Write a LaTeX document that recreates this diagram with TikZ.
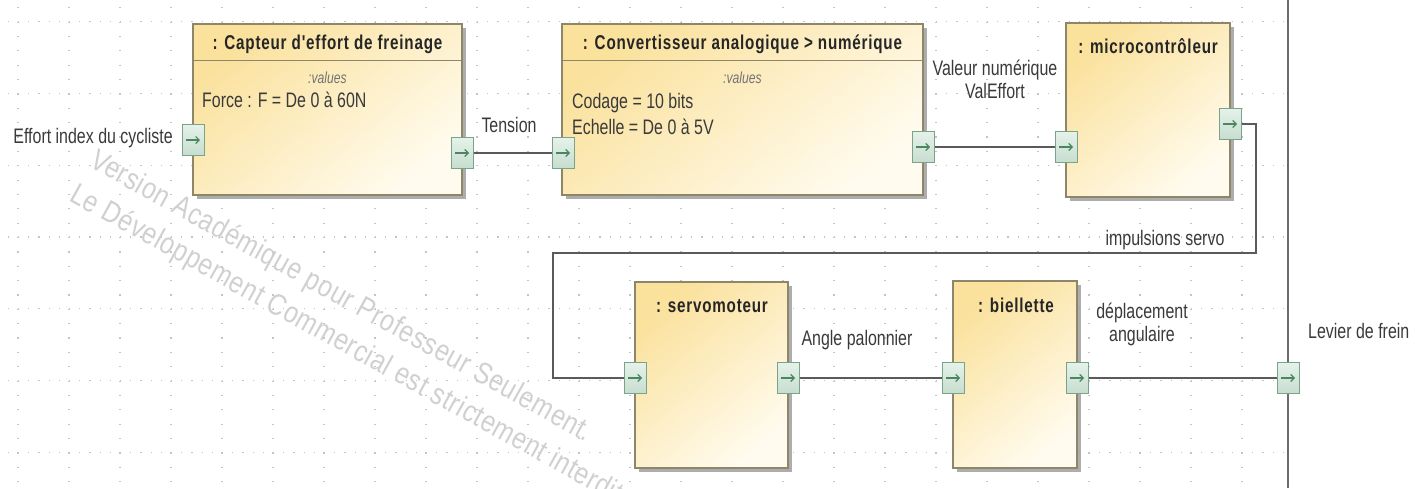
\documentclass[tikz,border=0pt]{standalone}
\usepackage{fontspec}
\setmainfont{Liberation Sans}[FakeStretch=0.76]
\newfontfamily\titlefont{Liberation Sans}[FakeStretch=0.76,LetterSpace=4]
\newfontfamily\wmfont{Liberation Sans}[FakeStretch=0.83,LetterSpace=2]
\usetikzlibrary{shadows,arrows.meta}
\definecolor{blockA}{HTML}{FAE19C}
\definecolor{blockB}{HTML}{FFFBEE}
\definecolor{blockline}{HTML}{8E8668}
\definecolor{portA}{HTML}{E6F2EA}
\definecolor{portB}{HTML}{C6DDCF}
\definecolor{portline}{HTML}{79A489}
\definecolor{portarrowc}{HTML}{4A8660}
\definecolor{connc}{HTML}{5A5A5A}
\definecolor{gridc}{HTML}{C4C4C4}
\definecolor{textc}{HTML}{3A3A3A}
\definecolor{wmc}{HTML}{D0D0D0}
\begin{document}
\begin{tikzpicture}[x=1pt,y=-1pt,
  block/.style={draw=blockline, line width=1.1pt, rectangle, inner sep=0pt,
    top color=blockA, bottom color=blockB, shading angle=40,
    drop shadow={shadow xshift=3.5pt, shadow yshift=-3.5pt, fill=black!40, opacity=0.8}},
  compline/.style={draw=blockline, line width=1pt},
  port/.style={draw=portline, line width=1pt, rectangle, inner sep=0pt,
    minimum width=22pt, minimum height=31pt, top color=portA, bottom color=portB},
  portarrow/.style={draw=portarrowc, line width=1.1pt, -{Straight Barb[length=3.5pt,width=7pt]}},
  conn/.style={draw=connc, line width=1.3pt},
  boundary/.style={draw=connc!90, line width=1.5pt},
  title/.style={font=\titlefont\bfseries\fontsize{20}{22}\selectfont, text=black!85, inner sep=0pt},
  lbl/.style={font=\fontsize{21}{23}\selectfont, text=textc, inner sep=0pt, align=center},
  vals/.style={font=\itshape\fontsize{16}{18}\selectfont, text=black!55, inner sep=0pt},
  gdot/.style={draw=gridc, line width=1.2pt},
  wm/.style={font=\wmfont\fontsize{30}{32}\selectfont, text=wmc, inner sep=0pt}
]
\useasboundingbox (0,0) rectangle (1424,488);
% grid
\foreach \k in {0,...,24}{
  \draw[gdot, dash pattern=on 1.2pt off 13.16pt] (18+51*\k,7.2) -- (18+51*\k,488);
}
\foreach \r in {0,...,6}{
  \draw[gdot, dash pattern=on 1.2pt off 9pt] (7.8,21.5+71.8*\r) -- (1287,21.5+71.8*\r);
}
% watermark
\node[wm, rotate=-29, anchor=base west] (wm1) at (88,166) {Version Académique pour Professeur Seulement.};
\node[wm, rotate=-29, anchor=base west] (wm2) at (68,200) {Le Développement Commercial est strictement interdit.};
% boundary
\draw[boundary] (1288,0) -- (1288,488);
% blocks
\node[block, minimum width=269pt, minimum height=171pt] (b1) at (327.5,109.5) {};
\node[block, minimum width=361pt, minimum height=171pt] (b2) at (742.5,109.5) {};
\node[block, minimum width=164pt, minimum height=174pt] (b3) at (1148,110) {};
\node[block, minimum width=153pt, minimum height=186pt] (b4) at (711.5,375) {};
\node[block, minimum width=124pt, minimum height=187pt] (b5) at (1015,374.5) {};
\draw[compline] (b1.north west) ++(0,37) -- ++(269,0);
\draw[compline] (b2.north west) ++(0,37) -- ++(361,0);
% titles
\node[title] (t1) at (327.5,44) {: Capteur d'effort de freinage};
\node[title] (t2) at (742.5,44) {: Convertisseur analogique > numérique};
\node[title] (t3) at (1148,46) {: microcontrôleur};
\node[title] (t4) at (712,306) {: servomoteur};
\node[title] (t5) at (1016,305) {: biellette};
% values
\node[vals] (v1) at (327.5,78) {:values};
\node[lbl, anchor=west] (v1a) at (202,100) {Force : F = De 0 à 60N};
\node[vals] (v2) at (742.5,78) {:values};
\node[lbl, anchor=west] (v2a) at (572,103) {Codage = 10 bits};
\node[lbl, anchor=west] (v2b) at (572,127) {Echelle = De 0 à 5V};
% ports
\node[port] (p1i) at (193,140) {};
\node[port] (p1o) at (462,153) {};
\node[port] (p2i) at (563,153) {};
\node[port] (p2o) at (923,147) {};
\node[port] (p3i) at (1066,147) {};
\node[port] (p3o) at (1230,124) {};
\node[port] (p4i) at (635,378) {};
\node[port] (p4o) at (788,378) {};
\node[port] (p5i) at (953,378) {};
\node[port] (p5o) at (1077,378) {};
\node[port] (p6) at (1288,378) {};
\foreach \p in {p1i,p1o,p2i,p2o,p3i,p3o,p4i,p4o,p5i,p5o,p6}{
  \draw[portarrow] ([xshift=-7pt]\p.center) -- ([xshift=7pt]\p.center);
}
% connectors
\coordinate (r1) at (1256,253);
\coordinate (r2) at (553,253);
\draw[conn] (p1o.east) -- (p2i.west);
\draw[conn] (p2o.east) -- (p3i.west);
\draw[conn] (p3o.east) -| (r1) -- (r2) |- (p4i.west);
\draw[conn] (p4o.east) -- (p5i.west);
\draw[conn] (p5o.east) -- (p6.west);
% labels
\node[lbl, anchor=east] (l0) at (173,138) {Effort index du cycliste};
\node[lbl] (l1) at (509,125) {Tension};
\node[lbl] (l2) at (995,79) {Valeur numérique\\ValEffort};
\node[lbl] (l3) at (1165,240) {impulsions servo};
\node[lbl] (l4) at (857,340) {Angle palonnier};
\node[lbl] (l5) at (1142,324) {déplacement\\angulaire};
\node[lbl, anchor=west] (l6) at (1308,331) {Levier de frein};
\end{tikzpicture}
\end{document}
